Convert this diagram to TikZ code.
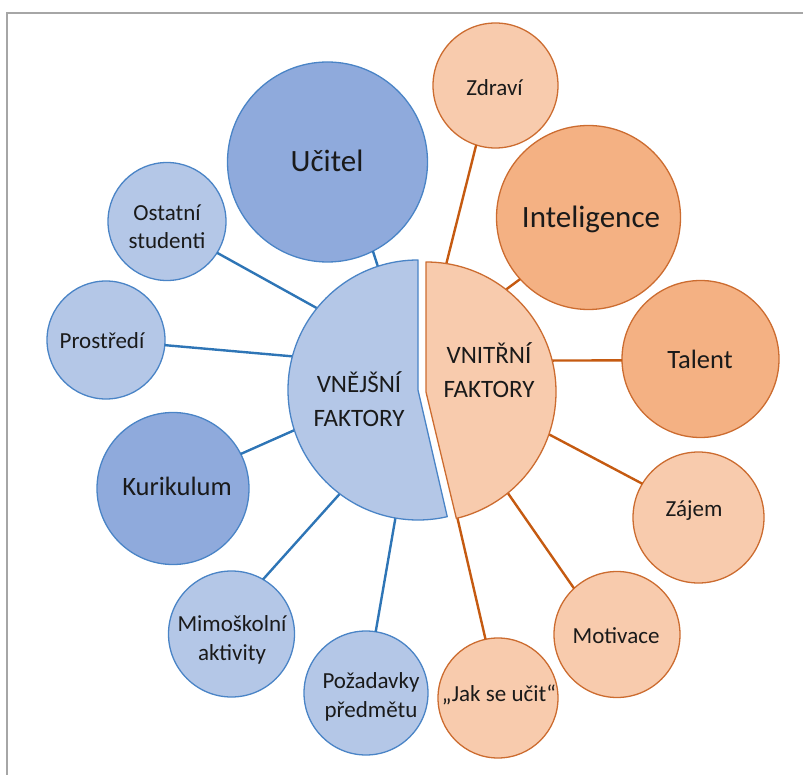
\documentclass[tikz,border=0pt]{standalone}
\usepackage{fontspec}
\setmainfont{Carlito}
\definecolor{blight}{HTML}{B4C7E7}
\definecolor{bdark}{HTML}{8FAADC}
\definecolor{bline}{HTML}{4A84C6}
\definecolor{blink}{HTML}{2E75B6}
\definecolor{olight}{HTML}{F8CBAD}
\definecolor{odark}{HTML}{F4B183}
\definecolor{oline}{HTML}{CC6C30}
\definecolor{olink}{HTML}{C55A11}
\definecolor{framegray}{HTML}{A6A6A6}
\definecolor{txt}{HTML}{1A1A1A}
\begin{document}
\begin{tikzpicture}[x=1pt,y=-1pt,
  sat/.style={circle, inner sep=0pt, outer sep=0pt, line width=1.3pt, minimum size=#1},
  bsat/.style={sat=#1, draw=bline, fill=blight},
  bsatd/.style={sat=#1, draw=bline, fill=bdark},
  osat/.style={sat=#1, draw=oline, fill=olight},
  osatd/.style={sat=#1, draw=oline, fill=odark},
  hub/.style={circle, inner sep=0pt, outer sep=0pt, minimum size=260pt},
  blinkline/.style={draw=blink, line width=2.4pt},
  olinkline/.style={draw=olink, line width=2.4pt},
  lbl/.style={align=center, inner sep=0pt, text=txt},
  fs/.style={font=\fontsize{23}{29}\selectfont},
  fm/.style={font=\fontsize{26.5}{32}\selectfont},
  fl/.style={font=\fontsize{31}{36}\selectfont},
  fc/.style={font=\fontsize{25}{34.5}\selectfont},
]
\useasboundingbox (0,0) rectangle (803,775);

% page frame
\draw[framegray, line width=1.5pt] (7,775) -- (7,13) -- (803,13);

% hub geometry (the two halves of the central disc)
\node[hub] (vnc) at (418,390) {};
\node[hub] (vnic) at (426,392) {};

% satellite circles
\node[bsatd=200pt] (uc) at (327.5,162) {};
\node[bsat=118pt] (ost) at (167,221.5) {};
\node[bsat=118pt] (pro) at (106,340) {};
\node[bsatd=152pt] (kur) at (173,488.5) {};
\node[bsat=126pt] (mim) at (231.5,634) {};
\node[bsat=124pt] (poz) at (366,693) {};
\node[osat=120pt] (jak) at (498,698) {};
\node[osat=126pt] (mot) at (617,634.5) {};
\node[osat=131pt] (zaj) at (698.5,517.5) {};
\node[osatd=157pt] (tal) at (700.5,359) {};
\node[osatd=184pt] (int) at (588.5,217.5) {};
\node[osat=125pt] (zdr) at (495.5,85.5) {};

% connectors of the outer factors
\draw[blinkline] (uc.-63) -- (vnc.108);
\draw[blinkline] (ost.-32) -- (vnc.141);
\draw[blinkline] (pro.-5) -- (vnc.165);
\draw[blinkline] (kur.27) -- (vnc.198);
\draw[blinkline] (mim.60) -- (vnc.233);
\draw[blinkline] (poz.81) -- (vnc.260);

% connectors of the inner factors
\draw[olinkline] (zdr.-108) -- (vnic.81);
\draw[olinkline] (int.222) -- (vnic.52);
\draw[olinkline] (tal.181) -- (vnic.14);
\draw[olinkline] (zaj.149) -- (vnic.-19);
\draw[olinkline] (mot.133) -- (vnic.-51);
\draw[olinkline] (jak.102) -- (vnic.-76);

% central halves
\filldraw[fill=blight, draw=bline, line width=1.3pt, line join=round]
  (vnc.center) -- (vnc.90) arc[start angle=-90, end angle=-283, radius=130] -- cycle;
\filldraw[fill=olight, draw=oline, line width=1.3pt, line join=round]
  (vnic.center) -- (vnic.90) arc[start angle=-90, end angle=76.5, radius=130] -- cycle;

% labels
\node[lbl, fc] (vnc-t) at (359,399) {VNĚJŠNÍ\\FAKTORY};
\node[lbl, fc] (vnic-t) at (489,370) {VNITŘNÍ\\FAKTORY};
\node[lbl, fl] (uc-t) at (327,161) {Učitel};
\node[lbl, fs, font=\fontsize{23}{28}\selectfont] (ost-t) at (167,227) {Ostatní\\studenti};
\node[lbl, fs] (pro-t) at (102,341) {Prostředí};
\node[lbl, fm] (kur-t) at (177,486) {Kurikulum};
\node[lbl, fs] (mim-t) at (232,640) {Mimoškolní\\aktivity};
\node[lbl, fs] (poz-t) at (371,697) {Požadavky\\předmětu};
\node[lbl, fs] (jak-t) at (499,695) {„Jak se učit“};
\node[lbl, fs] (mot-t) at (616,636) {Motivace};
\node[lbl, fs] (zaj-t) at (694,511) {Zájem};
\node[lbl, fm] (tal-t) at (700,359) {Talent};
\node[lbl, fl] (int-t) at (591,219) {Inteligence};
\node[lbl, fs] (zdr-t) at (494.5,88) {Zdraví};
\end{tikzpicture}
\end{document}
